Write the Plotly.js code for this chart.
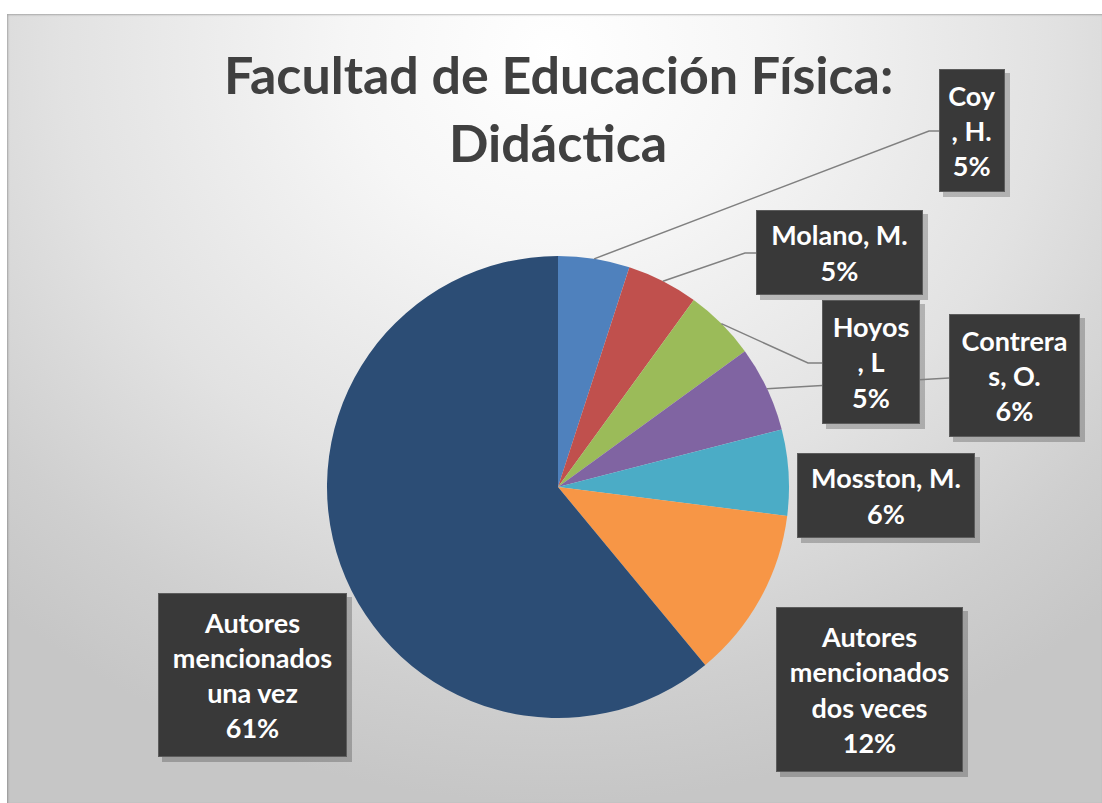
<!DOCTYPE html>
<html>
<head>
<meta charset="utf-8">
<script src="https://cdn.plot.ly/plotly-3.0.1.min.js"></script>
<style>
  html, body { margin:0; padding:0; background:#ffffff; width:1102px; height:803px; overflow:hidden; }
  #panel { position:absolute; left:7px; top:14px; width:1095px; height:789px;
    background: radial-gradient(ellipse 75% 95% at 50% 5%, #ffffff 0%, #f6f6f6 25%, #e2e2e2 60%, #cfcfcf 85%, #c6c6c6 100%);
    box-shadow: inset 1px 1px 2px rgba(0,0,0,0.25); }
  #chart { position:absolute; left:0; top:0; width:1102px; height:803px; }
</style>
</head>
<body>
<div id="panel"></div>
<div id="chart"></div>
<script>
// ---- data ----
const categories = ['Coy, H.', 'Molano, M.', 'Hoyos, L', 'Contreras, O.', 'Mosston, M.',
                    'Autores mencionados dos veces', 'Autores mencionados una vez'];
const values = [5, 5, 5, 6, 6, 12, 61];
const labelLines = ['Coy<br>, H.', 'Molano, M.', 'Hoyos<br>, L', 'Contrera<br>s, O.', 'Mosston, M.',
                    'Autores<br>mencionados<br>dos veces', 'Autores<br>mencionados<br>una vez'];
const colors = ['#4F81BD', '#C0504D', '#9BBB59', '#8064A2', '#4BACC6', '#F79646', '#2C4D75'];
const titleLines = ['Facultad de Educación Física:', 'Didáctica'];

// ---- layout config (pixels) ----
const W = 1102, H = 803;
const pie = {cx: 558, cy: 487, r: 231};
const titleY = [74, 142];
// label boxes: [left, top, right, bottom]
const boxes = [
  [939, 69, 1005, 192],
  [756, 210, 923, 295],
  [822, 300, 920, 424],
  [949, 314, 1080, 437],
  [797, 453, 975, 538],
  [776, 607, 963, 772],
  [158, 593, 347, 757]
];
// leader lines: intermediate points (pixels) after start on slice edge; null = no leader
const leaders = [
  [[929, 131], [939, 131]],
  [[745, 253], [756, 253]],
  [[808, 363], [822, 363]],
  [[949, 378]],
  null, null, null
];

const px = x => x / W;
const py = y => 1 - y / H;

const total = values.reduce((a, b) => a + b, 0);
const pctText = values.map(v => Math.round(v / total * 100) + '%');

const trace = {
  type: 'pie',
  labels: categories,
  values: values,
  sort: false,
  direction: 'clockwise',
  rotation: 0,
  marker: {colors: colors, line: {width: 0}},
  textinfo: 'none',
  hoverinfo: 'label+percent',
  showlegend: false,
  domain: {x: [px(pie.cx - pie.r), px(pie.cx + pie.r)], y: [py(pie.cy + pie.r), py(pie.cy - pie.r)]}
};

const shapes = [];
const annotations = [];
let cum = 0;
values.forEach((v, i) => {
  const mid = (cum + v / 2) / total * 2 * Math.PI;
  cum += v;
  const sx = pie.cx + pie.r * Math.sin(mid);
  const sy = pie.cy - pie.r * Math.cos(mid);
  if (leaders[i]) {
    let path = 'M ' + px(sx) + ' ' + py(sy);
    leaders[i].forEach(p => { path += ' L ' + px(p[0]) + ' ' + py(p[1]); });
    shapes.push({type: 'path', xref: 'paper', yref: 'paper', path: path,
      line: {color: '#808080', width: 1.5}});
  }
  const b = boxes[i];
  shapes.push({type: 'rect', xref: 'paper', yref: 'paper',
    x0: px(b[0] + 4), x1: px(b[2] + 5), y0: py(b[1] + 4), y1: py(b[3] + 5),
    fillcolor: 'rgba(0,0,0,0.22)', line: {width: 0}});
  annotations.push({
    xref: 'paper', yref: 'paper',
    x: px((b[0] + b[2]) / 2), y: py((b[1] + b[3]) / 2),
    xanchor: 'center', yanchor: 'middle',
    width: b[2] - b[0] - 2, height: b[3] - b[1] - 2,
    showarrow: false, align: 'center', valign: 'middle',
    text: '<b>' + labelLines[i] + '<br>' + pctText[i] + '</b>',
    font: {family: 'Lato, "Open Sans", sans-serif', size: 27, color: '#ffffff'},
    bgcolor: '#393939', bordercolor: '#5c5c5c', borderwidth: 1, borderpad: 0
  });
});

titleLines.forEach((t, i) => {
  annotations.push({
    xref: 'paper', yref: 'paper', x: px(pie.cx), y: py(titleY[i]),
    xanchor: 'center', yanchor: 'middle', showarrow: false,
    text: '<b>' + t + '</b>',
    font: {family: 'Lato, "Open Sans", sans-serif', size: 52, color: '#404040'}
  });
});

const layout = {
  width: W, height: H,
  margin: {l: 0, r: 0, t: 0, b: 0},
  paper_bgcolor: 'rgba(0,0,0,0)',
  plot_bgcolor: 'rgba(0,0,0,0)',
  shapes: shapes,
  annotations: annotations
};

Plotly.newPlot('chart', [trace], layout, {displayModeBar: false, staticPlot: true});
</script>
</body>
</html>
